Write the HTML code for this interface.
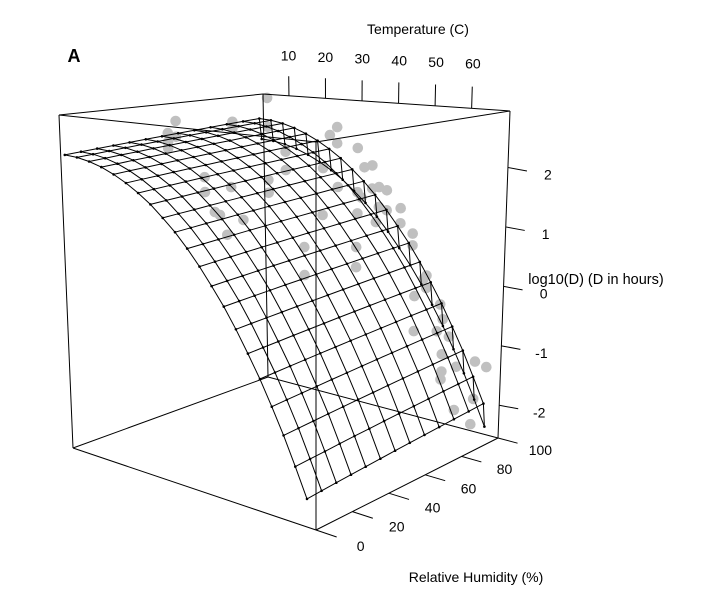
<!DOCTYPE html>
<html><head><meta charset="utf-8"><style>
html,body{margin:0;padding:0;background:#fff;}
svg{display:block;font-family:"Liberation Sans",Arial,sans-serif;}
</style></head><body>
<svg id="chart" width="715" height="611" viewBox="0 0 715 611" xmlns="http://www.w3.org/2000/svg">
<rect x="0" y="0" width="715" height="611" fill="#fff"/>
<text x="74" y="62" font-size="18" font-weight="bold" text-anchor="middle">A</text>
<g id="pts"></g>
<g id="surf"></g>
<g id="box"></g>
<g id="axes"></g>
</svg>
<script>
// Observation data
const obsTemp = [4,4,23.2,21.2,23.2,28.9,8.9,30.8,33,19.3,8.9,4,4,23.4,33,34.9,37.1,28.9,30,34.9,37.1,41,19.1,28.9,34.1,41,44.5,44.5,13.9,28.6,28.6,13.9,48.6,47.8,48.6,45.3,52.7,53.5,45.3,51.9,55.4,53.5,63.1,66.4,53.5,57.7,53.3,62.9,57.4,62.3,
  6.7,22,22,4.5,6.7,4.5,4.5,14.2,14.2,21.4,16.8,18.2,24.6,20.1];
const obsHum = [100,100,100,100,100,100,100,100,100,100,100,100,100,100,100,100,100,100,100,100,100,100,100,100,100,100,100,100,100,100,100,100,100,100,100,100,100,100,100,100,100,100,100,100,100,100,100,100,100,100,
  50,50,50,50,50,50,50,50,50,50,50,50,50,50];
const obsLogD = [2.88,2.32,2.43,2.27,2.13,2.08,1.87,1.74,1.79,1.64,1.52,1.29,1.04,1.32,1.37,1.41,1.37,1.27,1.18,1.05,1.01,1.08,0.76,0.88,0.77,0.81,0.66,0.45,0.10,0.26,-0.11,-0.43,-0.04,-0.11,-0.26,-0.44,-0.50,-0.75,-1.06,-0.98,-1.03,-1.36,-1.36,-1.41,-1.66,-1.52,-1.80,-2.00,-2.27,-2.44,
  2.68,2.76,2.65,2.45,2.40,2.29,2.18,1.75,1.49,1.64,1.17,1.13,1.11,0.81];
// Fitted surface grid
const tempGrid = [4,7.2,10.4,13.6,16.8,20,23.2,26.4,29.6,32.8,36,39.2,42.4,45.6,48.8,52,55.2,58.4,61.6,64.8,68];
const tempEffect = [2.30,2.285,2.244,2.18,2.09,1.98,1.85,1.70,1.52,1.33,1.11,0.87,0.61,0.34,0.04,-0.28,-0.61,-0.97,-1.34,-1.74,-2.15];
const humGrid = [0,8,16,24,32,40,48,56,64,72,80,88,96,97];
const humEffect = [0,0.017,0.033,0.05,0.067,0.083,0.10,0.117,0.133,0.15,0.167,0.183,0.20,-0.2];
// Axis ticks
const tempTicks = [10,20,30,40,50,60];
const humTicks = [0,20,40,60,80,100];
const zTicks = [2,1,0,-1,-2];

const T0=2.9, T1=70.5, Z0=-2.55, Z1=2.95;
const C={L:[[59,115],[73,448]],B:[[263,94],[268,377]],R:[[510,111],[498,438]],F:[[316,142],[316,530]]};
function bil(h,t,k,i){return (1-h)*(1-t)*C.L[k][i]+h*(1-t)*C.B[k][i]+h*t*C.R[k][i]+(1-h)*t*C.F[k][i];}
function P(h,t,zn){
  const tx=bil(h,t,0,0),ty=bil(h,t,0,1),bx=bil(h,t,1,0),by=bil(h,t,1,1);
  return [bx+(tx-bx)*zn, by+(ty-by)*zn];
}
function xs(H){return H/100;}
function ts(T){return (T-T0)/(T1-T0);}
function zs(z){return (z-Z0)/(Z1-Z0);}
function proj(T,H,z){return P(xs(H),ts(T),zs(z));}
const NS='http://www.w3.org/2000/svg';
function mk(tag,attrs,parent){const e=document.createElementNS(NS,tag);for(const k in attrs)e.setAttribute(k,attrs[k]);parent.appendChild(e);return e;}

// points
const gp=document.getElementById('pts');
for(let i=0;i<obsTemp.length;i++){
  const p=proj(obsTemp[i],obsHum[i],obsLogD[i]);
  const c=mk('circle',{cx:p[0].toFixed(1),cy:p[1].toFixed(1),r:5.3,fill:'#c0c0c0'},gp);
  
  
}
// surface
const gs=document.getElementById('surf');
const V=tempGrid.map((T,i)=>humGrid.map((H,j)=>proj(T,H,tempEffect[i]+humEffect[j])));
for(let i=0;i<tempGrid.length;i++){
  const d=V[i].map(p=>p[0].toFixed(1)+','+p[1].toFixed(1)).join(' ');
  const l=mk('polyline',{points:d,fill:'none',stroke:'#000','stroke-width':1},gs);
  
  
}
for(let j=0;j<humGrid.length;j++){
  const d=V.map(r=>r[j][0].toFixed(1)+','+r[j][1].toFixed(1)).join(' ');
  const l=mk('polyline',{points:d,fill:'none',stroke:'#000','stroke-width':1},gs);
  
  
}
for(let i=0;i<tempGrid.length;i++)for(let j=0;j<humGrid.length;j++){
  const c=mk('circle',{cx:V[i][j][0].toFixed(1),cy:V[i][j][1].toFixed(1),r:1.3,fill:'#000'},gs);
  
  
}
// box
const gb=document.getElementById('box');
const keys=['L','B','R','F'];
function line(a,b,parent,name){const l=mk('line',{x1:a[0],y1:a[1],x2:b[0],y2:b[1],stroke:'#000','stroke-width':1},parent);
  
  return l;}
for(let k=0;k<4;k++){
  const a=C[keys[k]],b=C[keys[(k+1)%4]];
  line(a[0],b[0],gb,'box-top-edge');
  line(a[1],b[1],gb,'box-bottom-edge');
  line(a[0],a[1],gb,'box-vertical-edge');
}
// axes
const ga=document.getElementById('axes');
function txt(x,y,s,name,size){const t=mk('text',{x:x.toFixed(1),y:y.toFixed(1),'font-size':size||14,'text-anchor':'middle','dominant-baseline':'central',fill:'#000'},ga);t.textContent=s;
  
  return t;}
tempTicks.forEach(T=>{
  const a=P(1,ts(T),1),b=P(1,ts(T),1.068),c=P(1,ts(T),1.14);
  line(a,b,ga,'temperature-tick');
  txt(c[0],c[1],String(T),'temperature-tick-label');
});
txt(418,29,'Temperature (C)','temperature-axis-title');
humTicks.forEach(H=>{
  const a=P(xs(H),1,0),b=P(xs(H),1.085,0),c=P(xs(H),1.18,0);
  line(a,b,ga,'humidity-tick');
  txt(c[0]+1,c[1]+1,String(H),'humidity-tick-label');
});
txt(476,577,'Relative Humidity (%)','humidity-axis-title');
zTicks.forEach(z=>{
  const a=P(1,1,zs(z));
  line(a,[a[0]+19,a[1]+3.5],ga,'logd-tick');
  txt(a[0]+40,a[1]+7,String(z),'logd-tick-label');
});
txt(596,280,'log10(D) (D in hours)','logd-axis-title',14.5);
</script>
</body></html>
